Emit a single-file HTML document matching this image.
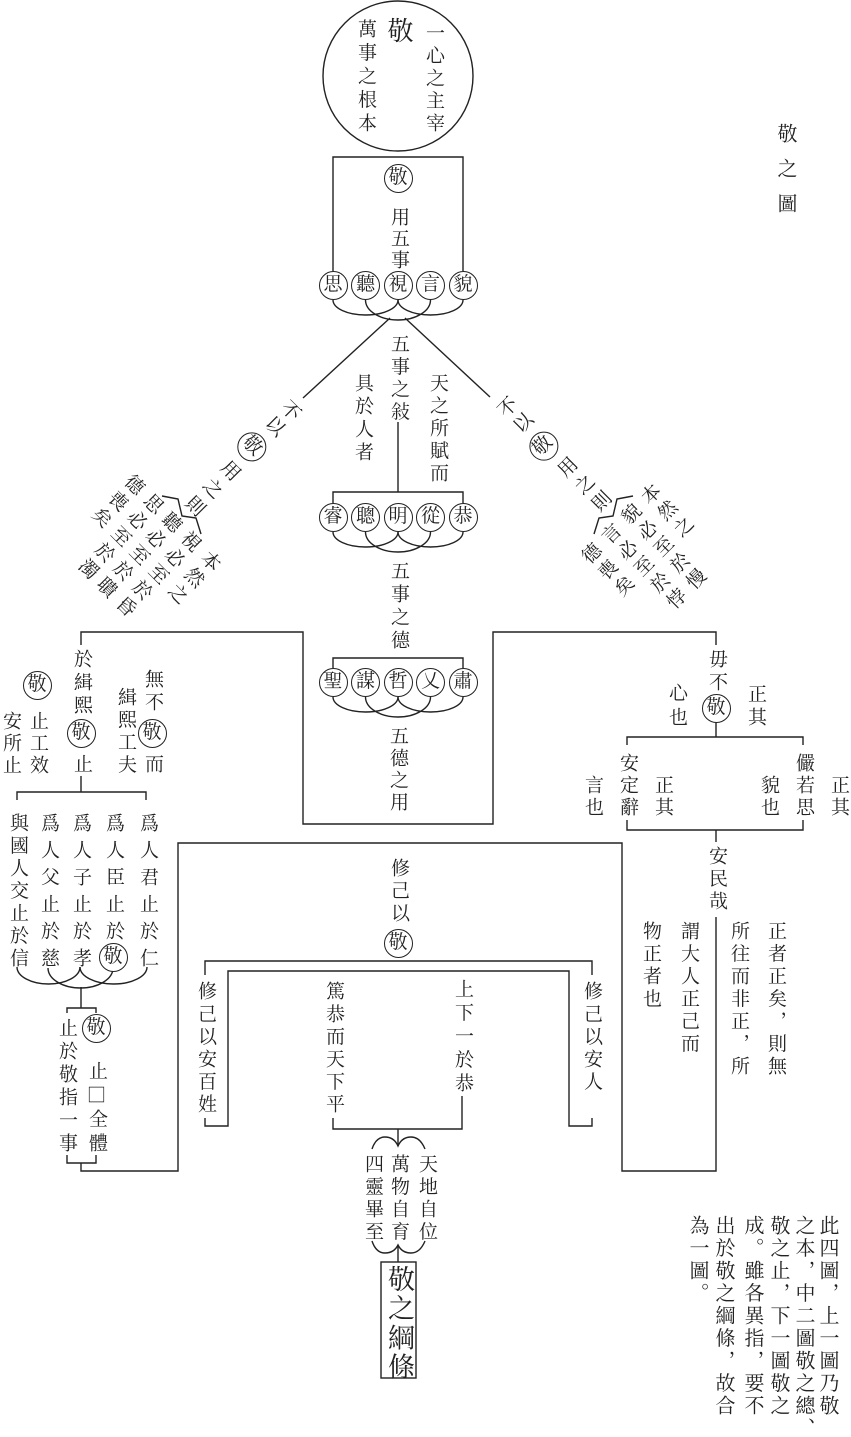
<!DOCTYPE html>
<html><head><meta charset="utf-8">
<style>
html,body{margin:0;padding:0;background:#fff}
#c{position:relative;width:851px;height:1437px;overflow:hidden;background:#fff;font-family:"Liberation Serif","Noto Serif CJK SC",serif;color:#222}
.v{position:absolute;writing-mode:vertical-rl;white-space:nowrap;font-size:19px;line-height:20px;width:20px}
.cc{position:absolute;width:29px;height:29px;box-sizing:border-box;border:1.3px solid #222;border-radius:50%;font-size:19px;line-height:25px;text-align:center;background:#fff;white-space:nowrap}
.rot{position:absolute;width:0;height:0;transform-origin:0 0}
.sq{font-family:"Noto Sans CJK SC","Noto Sans CJK JP",sans-serif}
svg{position:absolute;left:0;top:0}
</style></head><body><div id="c">
<svg width="851" height="1437" viewBox="0 0 851 1437" fill="none" stroke="#222" stroke-width="1.4">
<circle cx="398" cy="76" r="75"/>
<path d="M333,271 V157 H463 V271"/>
<path d="M333,300 A32.5,15 0 0 0 398,300"/>
<path d="M365.5,300 A32.5,20 0 0 0 430.5,300"/>
<path d="M398,300 A32.5,15 0 0 0 463,300"/>
<path d="M390,318 L303,398"/>
<path d="M405,318 L490,397"/>
<path d="M398,422 V492"/>
<path d="M333,503 V492 H463 V503"/>
<path d="M333,532 A32.5,15 0 0 0 398,532"/>
<path d="M365.5,532 A32.5,20 0 0 0 430.5,532"/>
<path d="M398,532 A32.5,15 0 0 0 463,532"/>
<path d="M333,668 V658 H463 V668"/>
<path d="M333,697 A32.5,15 0 0 0 398,697"/>
<path d="M365.5,697 A32.5,20 0 0 0 430.5,697"/>
<path d="M398,697 A32.5,15 0 0 0 463,697"/>
<path d="M81,645 V632 H303 V824 H493 V632 H716 V645"/>
<path d="M81,776 V792"/>
<path d="M17,800 V792 H146 V800"/>
<path d="M17,967 A31.5,17 0 0 0 80,967"/>
<path d="M48,968 A32.5,20 0 0 0 113,968"/>
<path d="M80,967 A33.5,17 0 0 0 147,967"/>
<path d="M81,987 V1008"/>
<path d="M67,1013 V1008 H96 V1013"/>
<path d="M67,1155 V1163 H96 V1155"/>
<path d="M81,1163 V1171 H178 V843 H622 V1171 H716 V917"/>
<path d="M716,722 V737"/>
<path d="M627,745 V737 H803 V745"/>
<path d="M627,820 V830 H803 V820"/>
<path d="M716,830 V842"/>
<path d="M205,975 V961 H592 V975"/>
<path d="M205,1118 V1126 H228 V971 H569 V1126 H592 V1118"/>
<path d="M333,1118 V1129 H462 V1096"/>
<path d="M398,1129 V1146"/>
<path d="M372,1149 Q376,1137 385,1137 Q394,1137 398,1146 Q402,1137 411,1137 Q420,1137 425,1149"/>
<path d="M372,1241 Q376,1253 385,1253 Q394,1253 398,1245 Q402,1253 411,1253 Q420,1253 425,1241"/>
<path d="M398,1245 V1262"/>
<rect x="381" y="1262" width="35" height="116"/>
<polyline points="162,496 178,499 182,516 196,518 201,534"/>
<polyline points="633,496 617,499 613,516 599,518 594,534"/>
</svg>

<!-- top circle -->
<div class="v" style="left:385px;top:17px;font-size:26px;line-height:26px;width:26px">敬</div>
<div class="v" style="left:355px;top:18.5px;letter-spacing:4.5px">萬事之根本</div>
<div class="v" style="left:423px;top:22.5px;letter-spacing:3.5px">一心之主宰</div>

<!-- box -->
<div class="cc" style="left:383.5px;top:163.5px">敬</div>
<div class="v" style="left:388px;top:206.5px;letter-spacing:2.5px">用五事</div>
<div class="cc" style="left:318.5px;top:271px">思</div>
<div class="cc" style="left:351px;top:271px">聽</div>
<div class="cc" style="left:383.5px;top:271px">視</div>
<div class="cc" style="left:416px;top:271px">言</div>
<div class="cc" style="left:448.5px;top:271px">貌</div>

<!-- middle column -->
<div class="v" style="left:388px;top:333.5px;letter-spacing:3.5px">五事之敍</div>
<div class="v" style="left:427px;top:372.5px;letter-spacing:3.5px">天之所賦而</div>
<div class="v" style="left:352px;top:372.5px;letter-spacing:4px">具於人者</div>
<div class="cc" style="left:318.5px;top:502.5px">睿</div>
<div class="cc" style="left:351px;top:502.5px">聰</div>
<div class="cc" style="left:383.5px;top:502.5px">明</div>
<div class="cc" style="left:416px;top:502.5px">從</div>
<div class="cc" style="left:448.5px;top:502.5px">恭</div>
<div class="v" style="left:388px;top:560.5px;letter-spacing:4px">五事之德</div>
<div class="cc" style="left:318.5px;top:667.5px">聖</div>
<div class="cc" style="left:351px;top:667.5px">謀</div>
<div class="cc" style="left:383.5px;top:667.5px">哲</div>
<div class="cc" style="left:416px;top:667.5px">乂</div>
<div class="cc" style="left:448.5px;top:667.5px">肅</div>
<div class="v" style="left:387px;top:725.5px;letter-spacing:3px">五德之用</div>

<!-- left rotated branch -->
<div class="rot" style="left:290px;top:408px;transform:rotate(45deg)">
<div class="v" style="left:-10px;top:-9.5px;letter-spacing:3px">不以</div>
<div class="cc" style="left:-14.5px;top:39.5px">敬</div>
<div class="v" style="left:-10px;top:75.5px;letter-spacing:6px">用之則</div>
<div class="v" style="left:40px;top:153.5px;letter-spacing:4px">本然之</div>
<div class="v" style="left:12px;top:153.5px;letter-spacing:4px">視必至於昏</div>
<div class="v" style="left:-15px;top:153.5px;letter-spacing:4px">聽必至於聵</div>
<div class="v" style="left:-41px;top:153.5px;letter-spacing:4px">思必至於濁</div>
<div class="v" style="left:-68px;top:153.5px;letter-spacing:4px">德喪矣</div>
</div>

<!-- right rotated branch -->
<div class="rot" style="left:505px;top:408px;transform:rotate(-45deg)">
<div class="v" style="left:-10px;top:-9.5px;letter-spacing:3px">不以</div>
<div class="cc" style="left:-14.5px;top:39.5px">敬</div>
<div class="v" style="left:-10px;top:75.5px;letter-spacing:5px">用之則</div>
<div class="v" style="left:30px;top:153.5px;letter-spacing:4px">本然之</div>
<div class="v" style="left:2px;top:153.5px;letter-spacing:4px">貌必至於慢</div>
<div class="v" style="left:-26px;top:153.5px;letter-spacing:4px">言必至於悖</div>
<div class="v" style="left:-54px;top:153.5px;letter-spacing:4px">德喪矣</div>
</div>

<!-- left section -->
<div class="v" style="left:71px;top:648.5px;letter-spacing:4px">於緝熙</div>
<div class="cc" style="left:66.5px;top:718.5px">敬</div>
<div class="v" style="left:71px;top:753.5px">止</div>
<div class="cc" style="left:22.5px;top:670.5px">敬</div>
<div class="v" style="left:27px;top:710.5px;letter-spacing:3px">止工效</div>
<div class="v" style="left:0px;top:710.5px;letter-spacing:3px">安所止</div>
<div class="v" style="left:115px;top:686.5px;letter-spacing:3.5px">緝熙工夫</div>
<div class="v" style="left:142px;top:668.5px;letter-spacing:4px">無不</div>
<div class="cc" style="left:137.5px;top:718.5px">敬</div>
<div class="v" style="left:142px;top:753.5px">而</div>

<div class="v" style="left:7px;top:812.5px;letter-spacing:3.5px">與國人交止於信</div>
<div class="v" style="left:38px;top:812.5px;letter-spacing:8px">爲人父止於慈</div>
<div class="v" style="left:70px;top:812.5px;letter-spacing:8px">爲人子止於孝</div>
<div class="v" style="left:103px;top:812.5px;letter-spacing:8px">爲人臣止於</div>
<div class="cc" style="left:98.5px;top:942.5px">敬</div>
<div class="v" style="left:137px;top:812.5px;letter-spacing:8px">爲人君止於仁</div>

<div class="v" style="left:56px;top:1017.5px;letter-spacing:4px">止於敬指一事</div>
<div class="cc" style="left:81.5px;top:1013.5px">敬</div>
<div class="v" style="left:86px;top:1060.5px;letter-spacing:5px">止<span class="sq">□</span>全體</div>

<!-- right section -->
<div class="v" style="left:706px;top:648.5px;letter-spacing:4px">毋不</div>
<div class="cc" style="left:701.5px;top:693.5px">敬</div>
<div class="v" style="left:666px;top:682.5px;letter-spacing:5px">心也</div>
<div class="v" style="left:745px;top:683.5px;letter-spacing:4px">正其</div>
<div class="v" style="left:617px;top:752.5px;letter-spacing:3px">安定辭</div>
<div class="v" style="left:652px;top:774.5px;letter-spacing:3px">正其</div>
<div class="v" style="left:582px;top:774.5px;letter-spacing:3px">言也</div>
<div class="v" style="left:793px;top:752.5px;letter-spacing:3px">儼若思</div>
<div class="v" style="left:758px;top:774.5px;letter-spacing:3px">貌也</div>
<div class="v" style="left:828px;top:774.5px;letter-spacing:3px">正其</div>
<div class="v" style="left:706px;top:845.5px;letter-spacing:3.5px">安民哉</div>
<div class="v" style="left:765px;top:920.5px;letter-spacing:3.5px">正者正矣，則無</div>
<div class="v" style="left:728px;top:920.5px;letter-spacing:3.5px">所往而非正，所</div>
<div class="v" style="left:678px;top:920.5px;letter-spacing:3.5px">謂大人正己而</div>
<div class="v" style="left:640px;top:920.5px;letter-spacing:3.5px">物正者也</div>

<!-- bottom center -->
<div class="v" style="left:388px;top:857.5px;letter-spacing:3.5px">修己以</div>
<div class="cc" style="left:383.5px;top:928.5px">敬</div>
<div class="v" style="left:195px;top:980.5px;letter-spacing:3.6px">修己以安百姓</div>
<div class="v" style="left:581px;top:980.5px;letter-spacing:3.6px">修己以安人</div>
<div class="v" style="left:323px;top:980.5px;letter-spacing:3.6px">篤恭而天下平</div>
<div class="v" style="left:452px;top:978.5px;letter-spacing:4.5px">上下一於恭</div>
<div class="v" style="left:416px;top:1153.5px;letter-spacing:3.5px">天地自位</div>
<div class="v" style="left:388px;top:1153.5px;letter-spacing:3.5px">萬物自育</div>
<div class="v" style="left:362px;top:1153.5px;letter-spacing:3.5px">四靈畢至</div>
<div class="v" style="left:385px;top:1264.5px;font-size:27px;line-height:27px;width:27px;letter-spacing:2.3px">敬之綱條</div>

<!-- title -->
<div class="v" style="left:775px;top:123px;font-size:20px;letter-spacing:15px">敬之圖</div>

<!-- bottom-right note -->
<div class="v" style="left:817px;top:1215px;font-size:20px;letter-spacing:2.5px">此四圖，上一圖乃敬</div>
<div class="v" style="left:793px;top:1215px;font-size:20px;letter-spacing:2.5px">之本，中二圖敬之總、</div>
<div class="v" style="left:768px;top:1215px;font-size:20px;letter-spacing:2.5px">敬之止，下一圖敬之</div>
<div class="v" style="left:742px;top:1215px;font-size:20px;letter-spacing:2.5px">成。雖各異指，要不</div>
<div class="v" style="left:713px;top:1215px;font-size:20px;letter-spacing:2.5px">出於敬之綱條，故合</div>
<div class="v" style="left:687px;top:1215px;font-size:20px;letter-spacing:2.5px">為一圖。</div>
</div></body></html>
